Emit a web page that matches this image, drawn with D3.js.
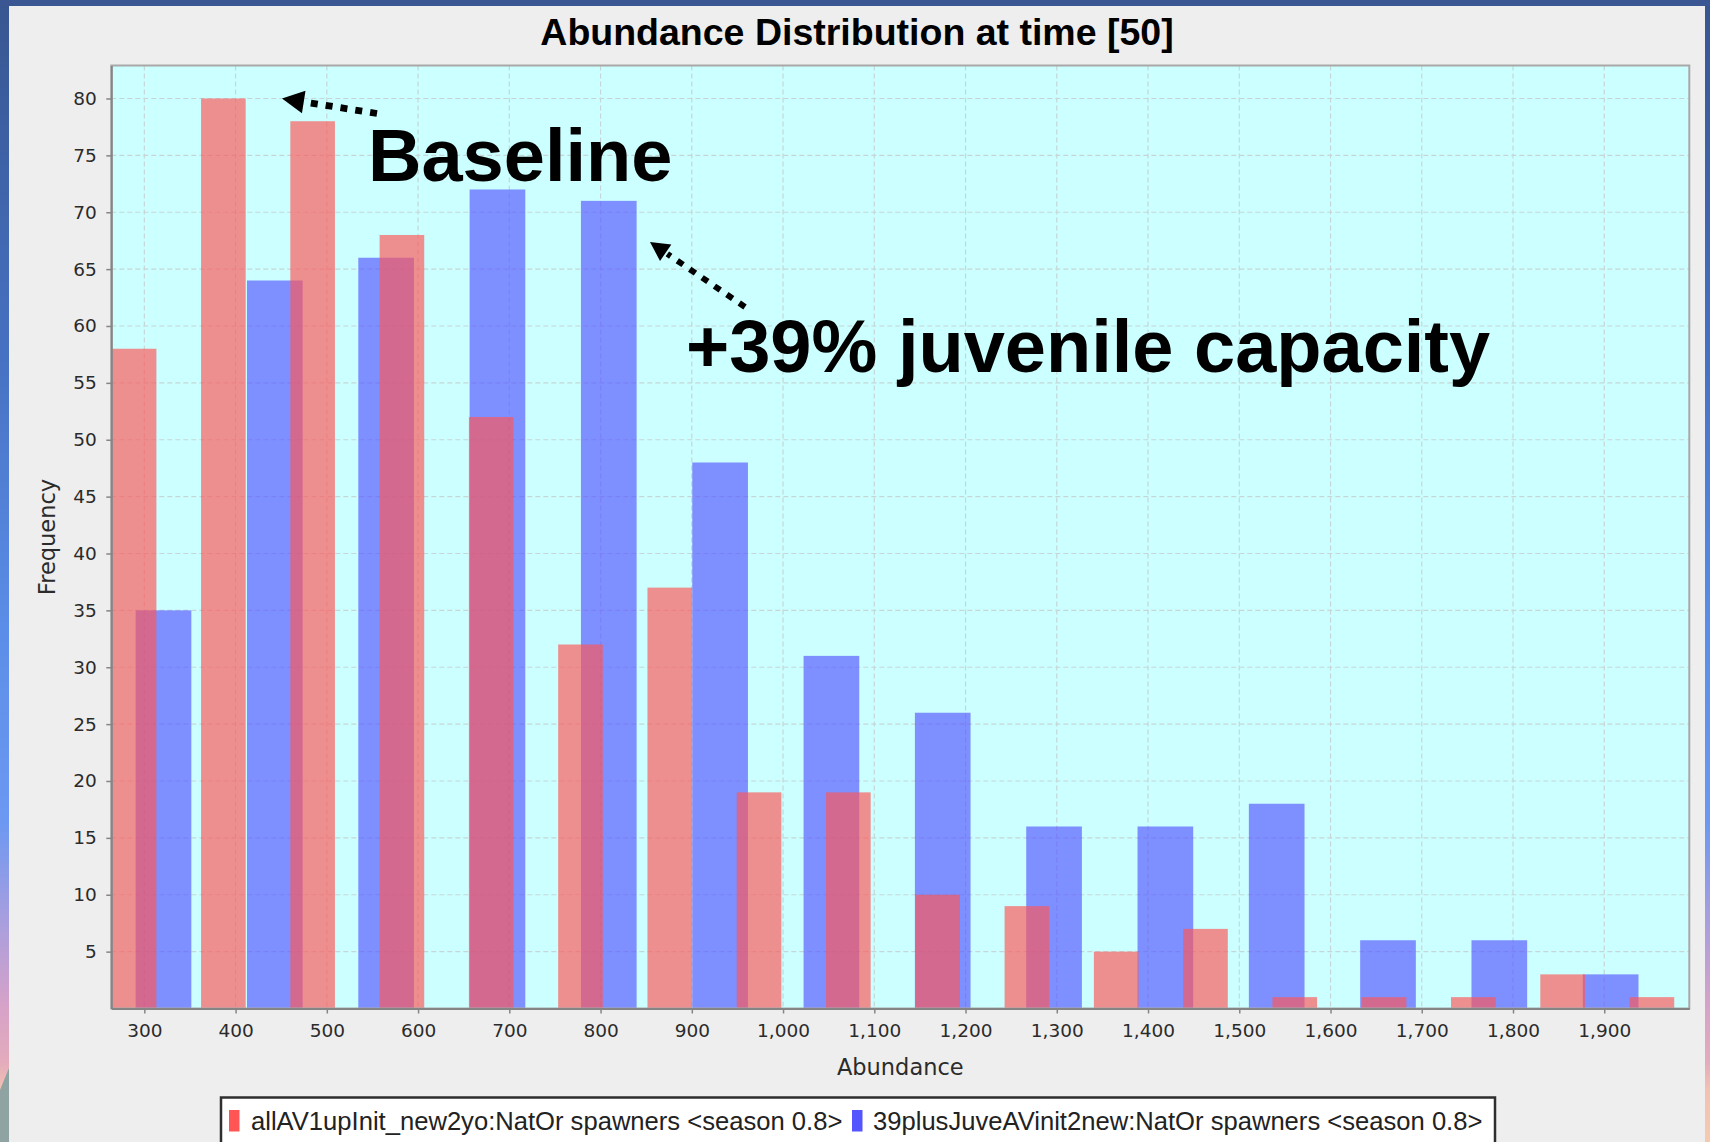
<!DOCTYPE html>
<html>
<head>
<meta charset="utf-8">
<script src="https://cdn.jsdelivr.net/npm/d3@7"></script>
<style>
  html, body { margin: 0; padding: 0; overflow: hidden; background: #3a5794; }
  svg { display: block; }
</style>
</head>
<body>
<svg id="chart" width="1710" height="1142"></svg>
<script>
// Histogram counts (frequency per abundance bin) for the two model runs
const baselineCounts = [58, 80, 78, 68, 52, 32, 37, 19, 19, 10, 9, 5, 7, 1, 1, 1, 3, 1];
const juvenileCounts = [35, 64, 66, 72, 71, 48, 31, 26, 16, 16, 18, 6, 6, 3];

// Histogram bin layout: lower edge of the first bin and bin width (abundance units)
const baselineBin = { start: 264.3, width: 97.85 };
const juvenileBin = { start: 229.5, width: 122.0 };

const seriesNames = [
  "allAV1upInit_new2yo:NatOr spawners <season 0.8>",
  "39plusJuveAVinit2new:NatOr spawners <season 0.8>"
];

const xTicks = [300, 400, 500, 600, 700, 800, 900, 1000, 1100, 1200, 1300, 1400, 1500, 1600, 1700, 1800, 1900];
const yTicks = [5, 10, 15, 20, 25, 30, 35, 40, 45, 50, 55, 60, 65, 70, 75, 80];

const xDomain = [263.8, 1993.2];
const yDomain = [0, 82.9];

const titleText = "Abundance Distribution at time [50]";
const xLabel = "Abundance";
const yLabel = "Frequency";
const notes = ["Baseline", "+39% juvenile capacity"];

// ---------------------------------------------------------------------------
const W = 1710, H = 1142;
const plot = { left: 111.3, right: 1689.3, top: 65.5, bottom: 1008.5 };

const svg = d3.select("#chart");
const defs = svg.append("defs");

// slide background behind the chart panel
const bg = defs.append("linearGradient").attr("id", "slideBg")
  .attr("x1", 0).attr("y1", 0).attr("x2", 0).attr("y2", 1);
[[0, "#385690"], [0.3, "#4670c0"], [0.55, "#5b8ee8"], [0.72, "#6c98f2"],
 [0.8, "#a49ee0"], [0.88, "#d6a2c8"], [0.93, "#e3abbc"], [0.955, "#f2c2b2"], [1, "#f6cab0"]]
  .forEach(([o, c]) => bg.append("stop").attr("offset", o).attr("stop-color", c));

svg.append("rect").attr("width", W).attr("height", H).attr("fill", "url(#slideBg)");
svg.append("rect").attr("width", W).attr("height", 6).attr("fill", "#3a5793");
svg.append("polygon").attr("points", "0,1090 9,1068 9,1142 0,1142").attr("fill", "#8fa3a3");

// chart panel
svg.append("rect").attr("x", 9).attr("y", 6).attr("width", 1696).attr("height", H - 6)
  .attr("fill", "#eeeeee");

const x = d3.scaleLinear().domain(xDomain).range([plot.left, plot.right]);
const y = d3.scaleLinear().domain(yDomain).range([plot.bottom, plot.top]);

const chart = svg.append("g");

// plot background
chart.append("rect")
  .attr("x", plot.left).attr("y", plot.top)
  .attr("width", plot.right - plot.left).attr("height", plot.bottom - plot.top)
  .attr("fill", "#ccffff");

// dashed grid
const grid = chart.append("g").attr("stroke", "#c6d6d6").attr("stroke-width", 1.2)
  .attr("stroke-dasharray", "5,3");
grid.selectAll("line.h").data(yTicks).join("line").attr("class", "h")
  .attr("x1", plot.left).attr("x2", plot.right)
  .attr("y1", d => y(d)).attr("y2", d => y(d));
grid.selectAll("line.v").data(xTicks).join("line").attr("class", "v")
  .attr("y1", plot.top).attr("y2", plot.bottom)
  .attr("x1", d => x(d)).attr("x2", d => x(d));

// clustered histogram bars: series 0 takes the left half of its bin, series 1 the right half
function binBars(counts, bin, seriesIndex) {
  return counts.map((c, i) => {
    const lo = bin.start + i * bin.width;
    const half = bin.width / 2;
    return { x0: lo + seriesIndex * half, x1: lo + (seriesIndex + 1) * half, count: c };
  });
}
const series = [
  { bars: binBars(baselineCounts, baselineBin, 0), color: "rgb(255,85,85)" },
  { bars: binBars(juvenileCounts, juvenileBin, 1), color: "rgb(85,85,255)" }
];

// later series drawn first so the first series sits on top
const barsG = chart.append("g");
series.slice().reverse().forEach(s => {
  barsG.append("g").attr("fill", s.color).attr("fill-opacity", 0.66)
    .selectAll("rect").data(s.bars).join("rect")
    .attr("x", d => x(d.x0))
    .attr("width", d => x(d.x1) - x(d.x0))
    .attr("y", d => y(d.count))
    .attr("height", d => y(0) - y(d.count));
});

// plot outline
chart.append("rect")
  .attr("x", plot.left).attr("y", plot.top)
  .attr("width", plot.right - plot.left).attr("height", plot.bottom - plot.top)
  .attr("fill", "none").attr("stroke", "#a8a8a8").attr("stroke-width", 2);

// axes
const tickFont = "'DejaVu Sans', sans-serif";
const xAxis = chart.append("g").attr("transform", `translate(0,${plot.bottom})`)
  .call(d3.axisBottom(x).tickValues(xTicks).tickFormat(d3.format(",")).tickSize(5).tickSizeOuter(0).tickPadding(10));
const yAxis = chart.append("g").attr("transform", `translate(${plot.left},0)`)
  .call(d3.axisLeft(y).tickValues(yTicks).tickSize(5).tickSizeOuter(0).tickPadding(9.5));
[xAxis, yAxis].forEach(a => {
  a.select(".domain").attr("stroke", "#858585").attr("stroke-width", 2);
  a.selectAll(".tick line").attr("stroke", "#858585").attr("stroke-width", 1.5);
  a.selectAll(".tick text").attr("fill", "#2b2b2b")
    .style("font-family", tickFont).style("font-size", "18.5px");
});

// axis titles
chart.append("text").attr("x", (plot.left + plot.right) / 2).attr("y", 1075)
  .attr("text-anchor", "middle").attr("fill", "#2b2b2b")
  .style("font-family", tickFont).style("font-size", "22.5px").text(xLabel);
chart.append("text").attr("transform", `translate(55,${(plot.top + plot.bottom) / 2}) rotate(-90)`)
  .attr("text-anchor", "middle").attr("fill", "#2b2b2b")
  .style("font-family", tickFont).style("font-size", "22.5px").text(yLabel);

// chart title
chart.append("text").attr("x", 857).attr("y", 44.5).attr("text-anchor", "middle")
  .attr("fill", "#000").style("font-family", "'Liberation Sans', Arial, sans-serif")
  .style("font-weight", "bold").style("font-size", "37.5px").text(titleText);

// legend
const legend = chart.append("g");
legend.append("rect").attr("x", 221).attr("y", 1097.5).attr("width", 1274).attr("height", 70)
  .attr("fill", "#ffffff").attr("stroke", "#2e2e2e").attr("stroke-width", 2.5);
const legendItems = [
  { name: seriesNames[0], color: "#ff5555", mx: 229, tx: 251 },
  { name: seriesNames[1], color: "#5555ff", mx: 852, tx: 873 }
];
legendItems.forEach(it => {
  legend.append("rect").attr("x", it.mx).attr("y", 1110).attr("width", 10.5).attr("height", 21.5)
    .attr("fill", it.color);
  legend.append("text").attr("x", it.tx).attr("y", 1129.5).attr("fill", "#222")
    .style("font-family", "'Liberation Sans', Arial, sans-serif").style("font-size", "25.6px")
    .text(it.name);
});

// call-out annotations with dotted arrows
const notesG = svg.append("g");
function dottedArrow(tip, tail, headLen, headHalf, width, dash) {
  const dx = tail[0] - tip[0], dy = tail[1] - tip[1];
  const len = Math.hypot(dx, dy);
  const ux = dx / len, uy = dy / len;
  const bx = tip[0] + ux * headLen, by = tip[1] + uy * headLen;
  notesG.append("line")
    .attr("x1", tail[0]).attr("y1", tail[1]).attr("x2", bx + ux * 2).attr("y2", by + uy * 2)
    .attr("stroke", "#000").attr("stroke-width", width).attr("stroke-dasharray", dash);
  notesG.append("polygon")
    .attr("points", [
      tip,
      [bx - uy * headHalf, by + ux * headHalf],
      [bx + uy * headHalf, by - ux * headHalf]
    ].map(p => p.join(",")).join(" "))
    .attr("fill", "#000");
}
dottedArrow([282, 98.5], [377, 113.5], 22, 11.4, 6.8, "7,8");
dottedArrow([650, 242], [745, 307], 19, 10, 6, "7,8");

notesG.append("text").attr("x", 368).attr("y", 181).attr("fill", "#000")
  .style("font-family", "'Liberation Sans', Arial, sans-serif").style("font-weight", "bold")
  .style("font-size", "74px").text(notes[0]);
notesG.append("text").attr("x", 686).attr("y", 372).attr("fill", "#000")
  .style("font-family", "'Liberation Sans', Arial, sans-serif").style("font-weight", "bold")
  .style("font-size", "74px").text(notes[1]);
</script>
</body>
</html>
